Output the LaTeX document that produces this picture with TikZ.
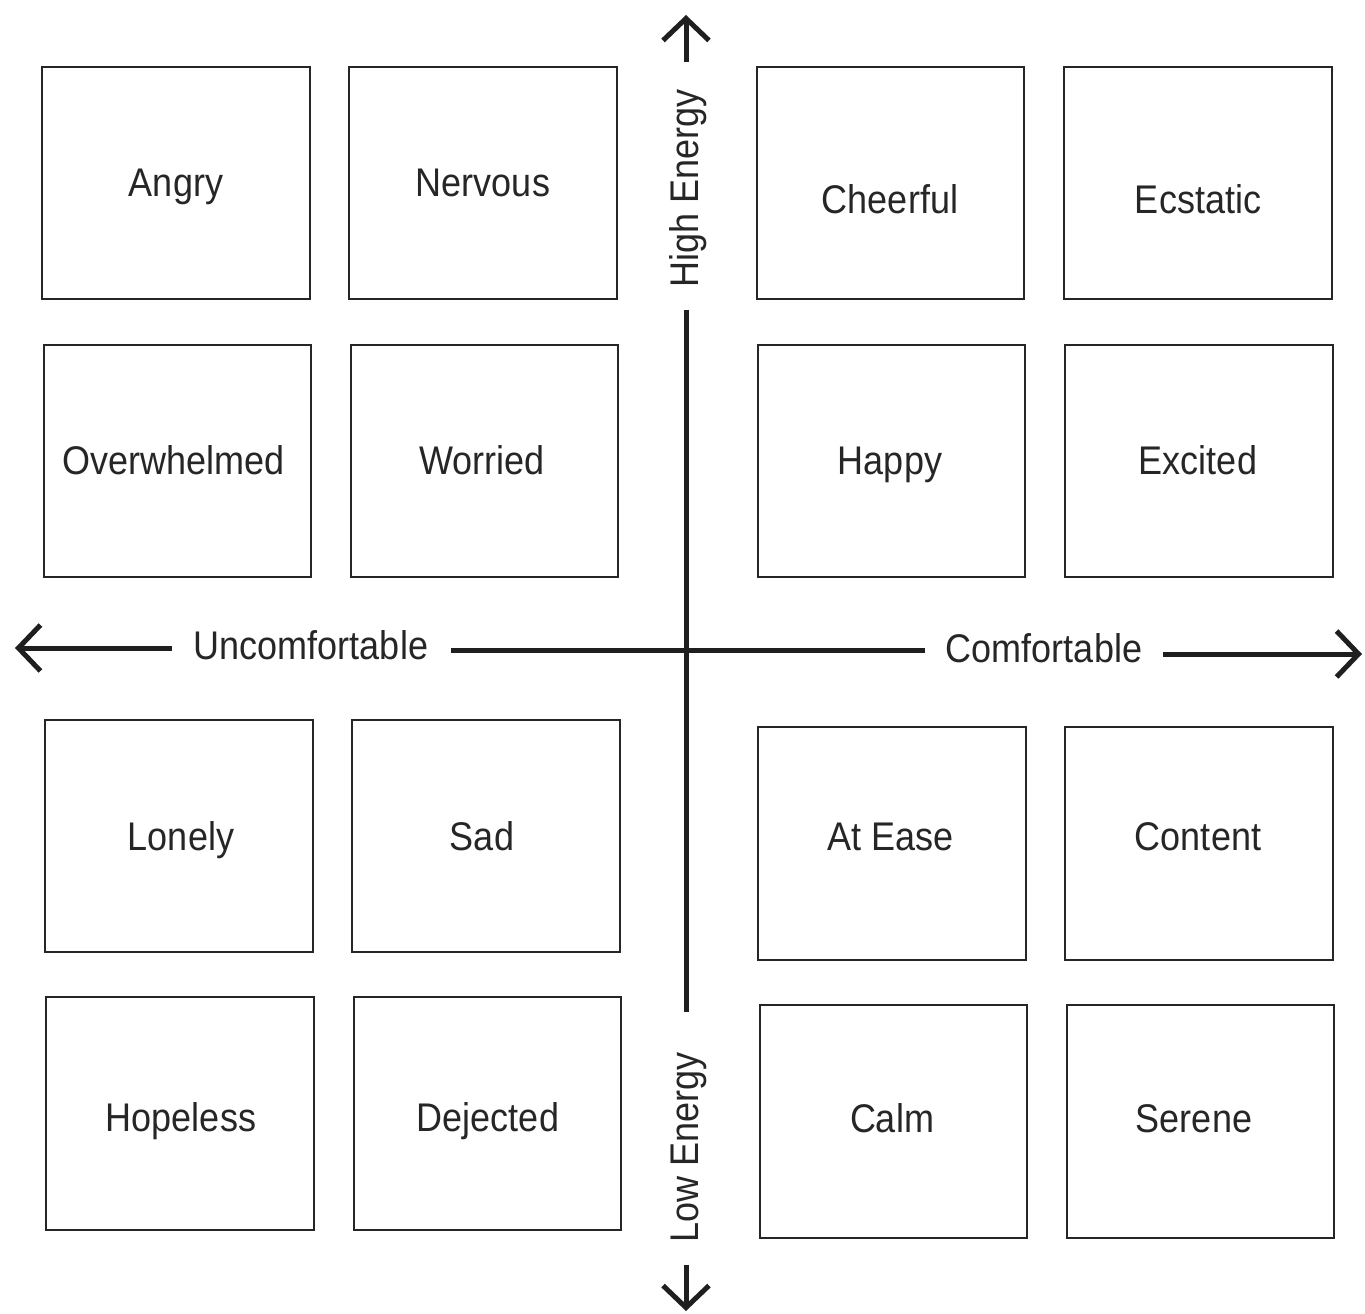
\documentclass[tikz,border=0pt]{standalone}
\usepackage{fontspec}
\setmainfont[FakeStretch=0.9]{Liberation Sans}
\usetikzlibrary{arrows.meta}
\begin{document}
\begin{tikzpicture}[x=1pt,y=-1pt,
  emobox/.style={draw=black!85,line width=2.6pt},
  emotext/.style={font=\fontsize{40}{44}\selectfont,text=black!85,inner sep=0pt,anchor=base},
  axis/.style={line width=5pt,draw=black!88},
  axarrow/.style={axis,-{Straight Barb[length=22pt,width=46pt,line width=5pt]}},
  axtext/.style={font=\fontsize{40}{44}\selectfont,text=black!85,inner sep=0pt}]
\useasboundingbox (0,0) rectangle (1365,1314);
\newcommand{\emo}[8]{%
  \path[emobox] (#2,#3) rectangle (#4,#5);
  \node[emotext] (#1) at (#6,#7+12) {#8};}
% upper left
\emo{angry}{42}{67}{310}{299}{176}{184}{Angry}
\emo{nervous}{349}{67}{617}{299}{483}{184}{Nervous}
\emo{overwhelmed}{44}{345}{311}{577}{174}{462}{Overwhelmed}
\emo{worried}{351}{345}{618}{577}{482}{462}{Worried}
% upper right
\emo{cheerful}{757}{67}{1024}{299}{890}{201}{Cheerful}
\emo{ecstatic}{1064}{67}{1332}{299}{1198}{201}{Ecstatic}
\emo{happy}{758}{345}{1025}{577}{890}{462}{Happy}
\emo{excited}{1065}{345}{1333}{577}{1198}{462}{Excited}
% lower left
\emo{lonely}{45}{720}{313}{952}{181}{838}{Lonely}
\emo{sad}{352}{720}{620}{952}{482}{838}{Sad}
\emo{hopeless}{46}{997}{314}{1230}{181}{1119}{Hopeless}
\emo{dejected}{354}{997}{621}{1230}{488}{1119}{Dejected}
% lower right
\emo{atease}{758}{727}{1026}{960}{891}{838}{At Ease}
\emo{content}{1065}{727}{1333}{960}{1198}{838}{Content}
\emo{calm}{760}{1005}{1027}{1238}{892}{1120}{Calm}
\emo{serene}{1067}{1005}{1334}{1238}{1194}{1120}{Serene}
% axes labels
\node[axtext,rotate=90,anchor=base] (high) at (698,188) {High Energy};
\node[axtext,rotate=90,anchor=base] (low) at (698,1147) {Low Energy};
\node[axtext,anchor=base] (unc) at (311,659) {Uncomfortable};
\node[axtext,anchor=base] (com) at (1044,662) {Comfortable};
% axis endpoints
\coordinate (topbase) at (686,62);
\coordinate (toptip) at (686,15);
\coordinate (botbase) at (686,1265);
\coordinate (bottip) at (686,1311);
\coordinate (vtop) at (686,310);
\coordinate (vbot) at (686,1012);
\coordinate (lefttip) at (15,648);
\coordinate (leftbase) at (172,648);
\coordinate (hl) at (451,650);
\coordinate (hr) at (925,650);
\coordinate (rightbase) at (1163,654);
\coordinate (righttip) at (1362,654);
% axes
\draw[axarrow] (topbase) -- (toptip);
\draw[axarrow] (botbase) -- (bottip);
\draw[axis] (vtop) -- (vbot);
\draw[axarrow] (leftbase) -- (lefttip);
\draw[axis] (hl) -- (hr);
\draw[axarrow] (rightbase) -- (righttip);
\end{tikzpicture}
\end{document}
